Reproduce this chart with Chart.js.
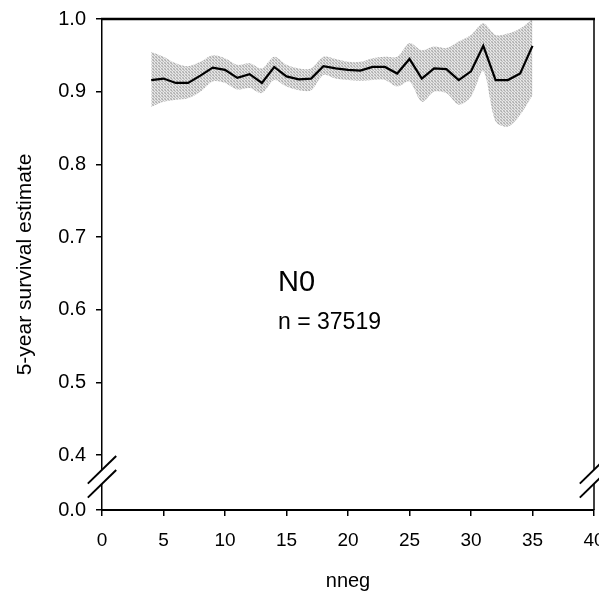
<!DOCTYPE html>
<html>
<head>
<meta charset="utf-8">
<script src="https://cdn.jsdelivr.net/npm/chart.js@4"></script>
<style>
  html, body { margin: 0; padding: 0; background: #fff; }
  #wrap { width: 599px; height: 597px; position: relative; }
</style>
</head>
<body>
<div id="wrap"><canvas id="c" width="599" height="597"></canvas></div>
<script>
// ---- data ----
const nneg = [4,5,6,7,8,9,10,11,12,13,14,15,16,17,18,19,20,21,22,23,24,25,26,27,28,29,30,31,32,33,34,35];
const survival = [0.916,0.918,0.912,0.912,0.922,0.933,0.930,0.919,0.924,0.912,0.934,0.921,0.917,0.918,0.935,0.932,0.930,0.929,0.934,0.934,0.925,0.945,0.918,0.932,0.931,0.916,0.928,0.963,0.916,0.916,0.925,0.963];
const upperCI  = [0.955,0.948,0.939,0.935,0.941,0.950,0.946,0.937,0.939,0.932,0.948,0.937,0.932,0.932,0.948,0.945,0.941,0.941,0.946,0.948,0.948,0.967,0.957,0.962,0.960,0.969,0.978,0.994,0.978,0.980,0.987,1.000];
const lowerCI  = [0.879,0.886,0.889,0.891,0.900,0.914,0.912,0.903,0.905,0.898,0.916,0.907,0.902,0.902,0.923,0.918,0.916,0.915,0.916,0.916,0.907,0.914,0.886,0.900,0.898,0.882,0.893,0.928,0.859,0.852,0.868,0.895];
const xTicks = [0,5,10,15,20,25,30,35,40];
const yTickLabels = ['0.0','0.4','0.5','0.6','0.7','0.8','0.9','1.0'];
const yTickValues = [0.3243,0.4,0.5,0.6,0.7,0.8,0.9,1.0]; // 0.0 shown below an axis break
const groupLabel = 'N0';
const countLabel = 'n = 37519';
const xTitle = 'nneg';
const yTitle = '5-year survival estimate';

const FONT = "'Liberation Sans', Arial, Helvetica, sans-serif";

const toPts = (ys) => nneg.map((x, i) => ({x: x, y: ys[i]}));

// stippled grey fill, like a halftone
function stipple() {
  const c = document.createElement('canvas');
  c.width = 3; c.height = 3;
  const g = c.getContext('2d');
  const shades = [[170,225,205],[215,190,235],[200,235,180]];
  for (let r = 0; r < 3; r++) for (let q = 0; q < 3; q++) {
    const v = shades[r][q];
    g.fillStyle = 'rgb(' + v + ',' + v + ',' + v + ')';
    g.fillRect(q, r, 1, 1);
  }
  return g.createPattern(c, 'repeat');
}

const decor = {
  id: 'decor',
  afterDraw(chart) {
    const ctx = chart.ctx;
    const ys = chart.scales.y;
    const a = chart.chartArea;
    ctx.save();
    // top border
    ctx.strokeStyle = '#000';
    ctx.lineWidth = 2.5;
    ctx.beginPath();
    ctx.moveTo(a.left - 1, a.top);
    ctx.lineTo(a.right + 1, a.top);
    ctx.stroke();
    // right border
    ctx.lineWidth = 1.5;
    ctx.beginPath();
    ctx.moveTo(a.right, a.top);
    ctx.lineTo(a.right, a.bottom);
    ctx.stroke();
    // axis breaks
    const y04 = ys.getPixelForValue(0.4);
    const c1 = y04 + 14.8, c2 = y04 + 28.8;
    [a.left, a.right].forEach(ax => {
      ctx.fillStyle = '#fff';
      ctx.beginPath();
      ctx.moveTo(ax - 5, c1 + 5);
      ctx.lineTo(ax + 5, c1 - 5);
      ctx.lineTo(ax + 5, c2 - 5);
      ctx.lineTo(ax - 5, c2 + 5);
      ctx.closePath();
      ctx.fill();
      ctx.strokeStyle = '#000';
      ctx.lineWidth = 2;
      [c1, c2].forEach(c => {
        ctx.beginPath();
        ctx.moveTo(ax - 14.2, c + 13.8);
        ctx.lineTo(ax + 14.2, c - 13.8);
        ctx.stroke();
      });
    });
    // labels inside plot
    ctx.fillStyle = '#000';
    ctx.textAlign = 'left';
    ctx.textBaseline = 'alphabetic';
    ctx.font = '29px ' + FONT;
    ctx.fillText(groupLabel, 278, 291);
    ctx.font = '23px ' + FONT;
    ctx.fillText(countLabel, 278, 329);
    ctx.restore();
  }
};

new Chart(document.getElementById('c'), {
  type: 'line',
  data: {
    datasets: [
      { label: 'upper', data: toPts(upperCI), borderWidth: 0, pointRadius: 0,
        backgroundColor: stipple(), fill: '+1', tension: 0.3, order: 2 },
      { label: 'lower', data: toPts(lowerCI), borderWidth: 0, pointRadius: 0,
        fill: false, tension: 0.3, order: 2 },
      { label: 'estimate', data: toPts(survival), borderColor: '#000', borderWidth: 2.2,
        pointRadius: 0, fill: false, tension: 0, order: 1 }
    ]
  },
  options: {
    responsive: false,
    animation: false,
    events: [],
    layout: { padding: { top: 19, right: 5, left: 0, bottom: 0 } },
    plugins: { legend: { display: false }, tooltip: { enabled: false } },
    scales: {
      x: {
        type: 'linear', min: 0, max: 40,
        afterBuildTicks: s => { s.ticks = xTicks.map(v => ({value: v})); },
        afterFit: s => { s.height = 87; s.paddingLeft = 0; s.paddingRight = 0; },
        grid: { drawOnChartArea: false, drawTicks: true, tickLength: 6, color: '#000', lineWidth: 1.5 },
        border: { display: true, color: '#000', width: 2 },
        ticks: { color: '#000', font: { family: FONT, size: 19 }, padding: 13, maxRotation: 0, autoSkip: false,
                 callback: v => String(v) },
        title: { display: true, text: xTitle, color: '#000', font: { family: FONT, size: 20 },
                 padding: { top: 0, bottom: 4 } }
      },
      y: {
        type: 'linear', min: yTickValues[0], max: 1.0,
        afterBuildTicks: s => { s.ticks = yTickValues.map(v => ({value: v})); },
        afterFit: s => { s.width = 102; s.paddingTop = 0; s.paddingBottom = 0; },
        grid: { drawOnChartArea: false, drawTicks: true, tickLength: 6, color: '#000', lineWidth: 1.5 },
        border: { display: true, color: '#000', width: 1.5 },
        ticks: { color: '#000', font: { family: FONT, size: 20 }, padding: 10, autoSkip: false,
                 callback: (v, i) => yTickLabels[i] },
        title: { display: true, text: yTitle, color: '#000', font: { family: FONT, size: 21 },
                 padding: { top: 13, bottom: 0 } }
      }
    }
  },
  plugins: [decor]
});
</script>
</body>
</html>
